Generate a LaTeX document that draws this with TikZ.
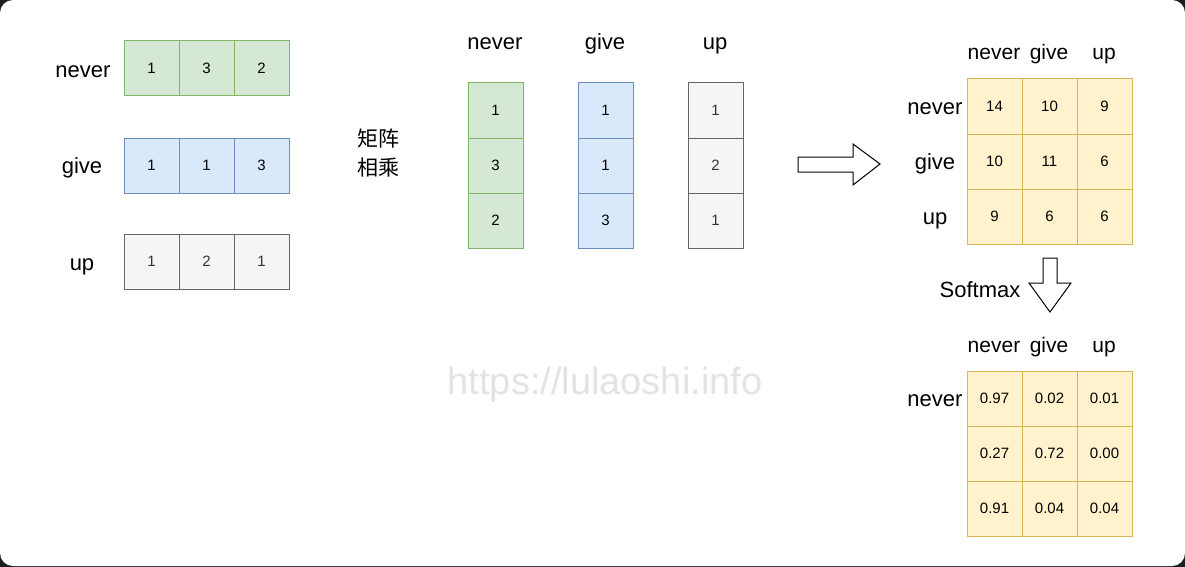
\documentclass[tikz,border=0pt]{standalone}
\usepackage{fontspec}
\setmainfont{Liberation Sans}
\newfontfamily\cjk{Noto Sans CJK SC}
\definecolor{gfill}{HTML}{D5E8D4}\definecolor{gline}{HTML}{82B366}
\definecolor{bfill}{HTML}{DAE8FC}\definecolor{bline}{HTML}{6C8EBF}
\definecolor{hfill}{HTML}{F5F5F5}\definecolor{hline}{HTML}{666666}\definecolor{htext}{HTML}{333333}
\definecolor{yfill}{HTML}{FFF2CC}\definecolor{yline}{HTML}{D6B656}
\definecolor{bgdark}{HTML}{1A1D22}\definecolor{wm}{HTML}{E3E3E3}
\tikzset{
  cell/.style={draw, minimum width=55pt, minimum height=55pt, inner sep=0pt, line width=1pt, font=\fontsize{15}{18}\selectfont},
  gcell/.style={cell, fill=gfill, draw=gline},
  bcell/.style={cell, fill=bfill, draw=bline},
  hcell/.style={cell, fill=hfill, draw=hline, text=htext},
  ycell/.style={cell, fill=yfill, draw=yline},
  lbl/.style={inner sep=0pt, anchor=base, font=\fontsize{22}{26}\selectfont},
  hlbl/.style={inner sep=0pt, anchor=base, font=\fontsize{21}{25}\selectfont},
  blockarrow/.style={draw=black, fill=white, line width=1pt, line join=miter},
}
\begin{document}
\begin{tikzpicture}[x=1pt,y=-1pt]
\useasboundingbox (0,0) rectangle (1185,567);
\fill[bgdark] (0,0) rectangle (1185,567);
\fill[white, rounded corners=13pt] (0,0) rectangle (1185,566);
% watermark
\node[wm, font=\fontsize{38}{44}\selectfont, inner sep=0pt] (wmark) at (605,385) {https://lulaoshi.info};
% left rows
\node[lbl] (lnever) at (83,77.5) {never};
\node[lbl] (lgive) at (82,173.5) {give};
\node[lbl] (lup) at (82,270) {up};
\foreach \v [count=\i] in {1,3,2} \node[gcell] (ln\i) at (151.5+55*\i-55,68.5) {\v};
\foreach \v [count=\i] in {1,1,3} \node[bcell] (lg\i) at (151.5+55*\i-55,165.5) {\v};
\foreach \v [count=\i] in {1,2,1} \node[hcell] (lu\i) at (151.5+55*\i-55,261.5) {\v};
% chinese
\node[align=center, font=\cjk\fontsize{21}{29}\selectfont, inner sep=0pt] (mul) at (378,153) {矩阵\\相乘};
% middle columns
\node[lbl] (mnever) at (495,50) {never};
\node[lbl] (mgive) at (605,50) {give};
\node[lbl] (mup) at (715,50) {up};
\foreach \v [count=\i] in {1,3,2} \node[gcell] (mn\i) at (495.5,110.5+55*\i-55) {\v};
\foreach \v [count=\i] in {1,1,3} \node[bcell] (mg\i) at (605.5,110.5+55*\i-55) {\v};
\foreach \v [count=\i] in {1,2,1} \node[hcell] (mu\i) at (715.5,110.5+55*\i-55) {\v};
% right arrow
\draw[blockarrow] (798,157) -- (853,157) -- (853,144) -- (880,164) -- (853,185) -- (853,172) -- (798,172) -- cycle;
% top-right matrix
\node[hlbl] (tcn) at (994,59.5) {never};
\node[hlbl] (tcg) at (1049,59.5) {give};
\node[hlbl] (tcu) at (1104,59.5) {up};
\node[lbl] (trn) at (935,114) {never};
\node[lbl] (trg) at (935,169.5) {give};
\node[lbl] (tru) at (935,224.5) {up};
\foreach \r/\a/\b/\c in {1/14/10/9, 2/10/11/6, 3/9/6/6} {
  \node[ycell] (t\r a) at (994.5,106.5+55*\r-55) {\a};
  \node[ycell] (t\r b) at (1049.5,106.5+55*\r-55) {\b};
  \node[ycell] (t\r c) at (1104.5,106.5+55*\r-55) {\c};
}
% down arrow
\draw[blockarrow] (1043,258) -- (1057,258) -- (1057,283) -- (1071,283) -- (1050,312) -- (1029,283) -- (1043,283) -- cycle;
\node[lbl] (soft) at (980,297.5) {Softmax};
% bottom matrix
\node[hlbl] (bcn) at (994,352.5) {never};
\node[hlbl] (bcg) at (1049,352.5) {give};
\node[hlbl] (bcu) at (1104,352.5) {up};
\node[lbl] (brn) at (935,406.5) {never};
\foreach \r/\a/\b/\c in {1/0.97/0.02/0.01, 2/0.27/0.72/0.00, 3/0.91/0.04/0.04} {
  \node[ycell] (b\r a) at (994.5,398.5+55*\r-55) {\a};
  \node[ycell] (b\r b) at (1049.5,398.5+55*\r-55) {\b};
  \node[ycell] (b\r c) at (1104.5,398.5+55*\r-55) {\c};
}
\end{tikzpicture}
\end{document}
